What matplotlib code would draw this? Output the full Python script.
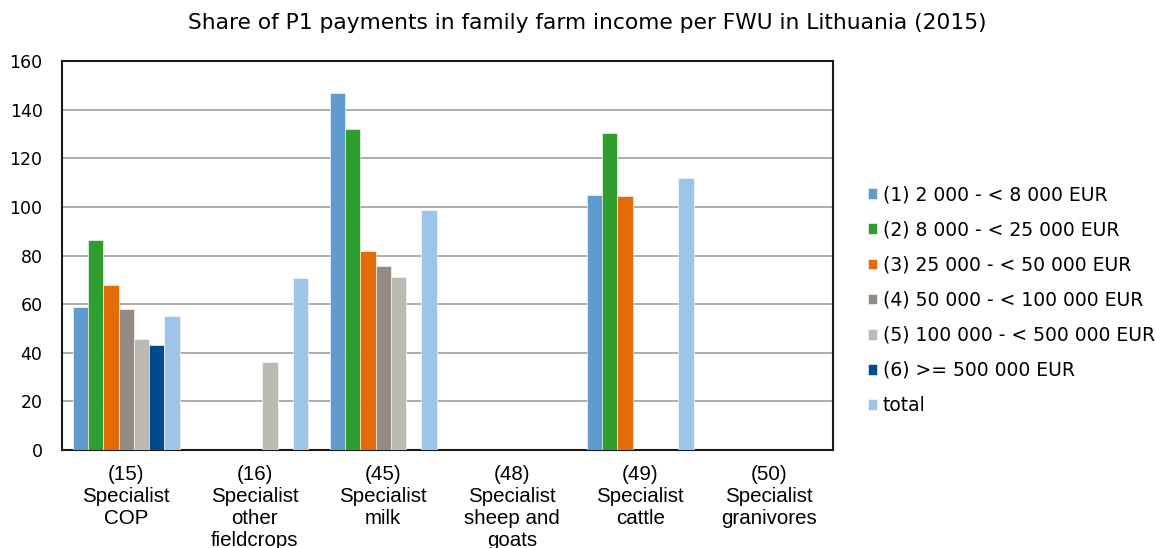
import numpy as np
import matplotlib.pyplot as plt

# FADN-style farm types and income classes
categories = [
    "(15)\nSpecialist\nCOP",
    "(16)\nSpecialist\nother\nfieldcrops",
    "(45)\nSpecialist\nmilk",
    "(48)\nSpecialist\nsheep and\ngoats",
    "(49)\nSpecialist\ncattle",
    "(50)\nSpecialist\ngranivores",
]
series_labels = [
    "(1) 2 000 - < 8 000 EUR",
    "(2) 8 000 - < 25 000 EUR",
    "(3) 25 000 - < 50 000 EUR",
    "(4) 50 000 - < 100 000 EUR",
    "(5) 100 000 - < 500 000 EUR",
    "(6) >= 500 000 EUR",
    "total",
]
# nan = no value for that class
size1 = [59, np.nan, 147, np.nan, 105, np.nan]
size2 = [86.5, np.nan, 132, np.nan, 130.5, np.nan]
size3 = [67.7, np.nan, 82, np.nan, 104.5, np.nan]
size4 = [58, np.nan, 75.5, np.nan, np.nan, np.nan]
size5 = [45.5, 36.3, 71, np.nan, np.nan, np.nan]
size6 = [43, np.nan, np.nan, np.nan, np.nan, np.nan]
total = [55, 70.8, 98.8, np.nan, 112, np.nan]

colors = ["#5f9bcd", "#2f9e2f", "#e36c09", "#948b85", "#bdbab3", "#004b8d", "#9ec4ea"]
narrow = ["Liberation Sans Narrow", "DejaVu Sans Condensed", "Liberation Sans"]

fig = plt.figure(figsize=(11.56, 5.48), dpi=100)
ax = fig.add_axes([0.0536, 0.1788, 0.667, 0.7099])

x = np.arange(len(categories))
w = 0.83 / 7
for i, vals in enumerate([size1, size2, size3, size4, size5, size6, total]):
    ax.bar(x - 0.415 + w * (i + 0.5), vals, width=w, color=colors[i],
           edgecolor="white", linewidth=0.4, label=series_labels[i], zorder=3)

ax.set_xlim(-0.5, len(categories) - 0.5)
ax.set_ylim(0, 160)
ax.set_yticks(range(0, 161, 20))
ax.yaxis.grid(True, color="#a0a0a0", linewidth=1.2, zorder=0)
ax.set_axisbelow(True)
for s in ax.spines.values():
    s.set_linewidth(1.5)
    s.set_color("#1a1a1a")
ax.tick_params(axis="y", length=0, labelsize=12.5, pad=14)
ax.set_xticks(x)
ax.set_xticklabels(categories, family=narrow, fontsize=14.8, linespacing=1.2, va="top")
ax.tick_params(axis="x", length=0, pad=11)

fig.text(0.508, 0.958, "Share of P1 payments in family farm income per FWU in Lithuania (2015)",
         ha="center", va="center", fontsize=15.7)

ax.legend(loc="center left", bbox_to_anchor=(1.035, 0.385), frameon=False,
          fontsize=13.5, handlelength=0.5, handleheight=0.5, handletextpad=0.3,
          labelspacing=0.86, borderaxespad=0)

fig.savefig("out.png", dpi=100)
